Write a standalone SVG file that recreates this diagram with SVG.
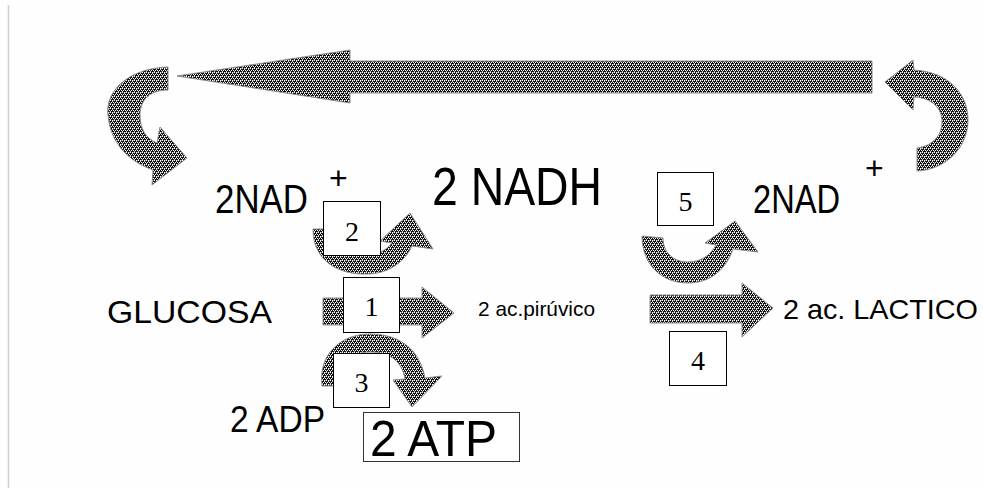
<svg xmlns="http://www.w3.org/2000/svg" width="983" height="488" viewBox="0 0 983 488">
<defs>
<pattern id="dith" width="4" height="4" patternUnits="userSpaceOnUse">
<rect width="4" height="4" fill="#111"/>
<rect x="0" y="0" width="1" height="1" fill="#fff"/>
<rect x="2" y="0" width="1" height="1" fill="#fff"/>
<rect x="1" y="2" width="1" height="1" fill="#fff"/>
<rect x="3" y="2" width="1" height="1" fill="#fff"/>
<rect x="0" y="1" width="1" height="1" fill="#ccc"/>
<rect x="2" y="3" width="1" height="1" fill="#ccc"/>
<rect x="1" y="0" width="1" height="1" fill="#777"/>
</pattern>
<style>
.arr{fill:url(#dith);stroke:#8a8a8a;stroke-width:1}
.box{fill:#fff;stroke:#000;stroke-width:1}
.t{font-family:"Liberation Sans",Arial,sans-serif;fill:#000}
.n{font-family:"Liberation Serif","Times New Roman",serif;fill:#000;font-size:28px;text-anchor:middle}
</style>
</defs>
<rect width="983" height="488" fill="#fefefe"/>
<line x1="8.5" y1="5" x2="8.5" y2="488" stroke="#cfcfcf" stroke-width="1.5"/>
<g id="connectors">
<path id="big-arrow" class="arr" d="M177,76 L350,50 L350,61 L872,61 L872,93 L350,93 L350,103 Z"/>
<path id="left-curve" class="arr" d="M168,67 C130,68 105,90 108,115 C110,140 125,160 153,170 L152,185 L187,158 L160,127 L157,143 C145,138 140,128 140,115 C140,100 150,90 168,90 Z"/>
<path id="right-curve" class="arr" d="M885,82 L913,60 L914,70 C950,72 968,95 968,120 C968,148 945,170 917,171 L917,148 C933,146 942,135 942,122 C942,108 932,98 914,97 L913,110 Z"/>
<path id="arrow-1" class="arr" d="M323,298 L422,298 L422,287 L454,313 L422,338 L422,325 L323,325 Z"/>
<path id="arrow-2" class="arr" d="M313,229 C313,262 340,275 367,274 C387,274 404,263 412,246 L433,249 L410,213 L380,241 L392,243 C385,252 375,255 365,255 C345,255 333,245 333,229 Z"/>
<path id="arrow-3" class="arr" d="M322,386 C318,355 340,334 370,334 C400,334 420,350 425,378 L442,376 L412,407 L393,380 L405,379 C402,360 388,352 370,352 C352,352 342,365 343,386 Z"/>
<path id="arrow-4" class="arr" d="M650,295 L742,295 L742,283 L773,308 L742,337 L742,323 L650,323 Z"/>
<path id="arrow-5" class="arr" d="M642,236 C642,265 662,283 688,283 C708,283 725,272 733,249 L758,252 L735,221 L705,243 L716,245 C710,256 700,262 688,262 C673,262 663,252 663,238 Z"/>
</g>
<g id="nad-left"><text class="t" x="215" y="213" font-size="40" textLength="93" lengthAdjust="spacingAndGlyphs">2NAD</text>
<text class="t" x="329" y="189" font-size="32">+</text></g>
<g id="nadh"><text class="t" x="432" y="205" font-size="53" textLength="170" lengthAdjust="spacingAndGlyphs">2 NADH</text></g>
<g id="glucosa"><text class="t" x="107" y="323" font-size="31" textLength="165" lengthAdjust="spacingAndGlyphs">GLUCOSA</text></g>
<g id="piruvico"><text class="t" x="478" y="316" font-size="21" textLength="117" lengthAdjust="spacingAndGlyphs">2 ac.pirúvico</text></g>
<g id="adp"><text class="t" x="230" y="432" font-size="37" textLength="95" lengthAdjust="spacingAndGlyphs">2 ADP</text></g>
<g id="atp"><rect x="363.5" y="412.5" width="156" height="49" fill="#fff" stroke="#333" stroke-width="1"/>
<text class="t" x="370" y="456" font-size="50" textLength="127" lengthAdjust="spacingAndGlyphs">2 ATP</text></g>
<g id="nad-right"><text class="t" x="753" y="213" font-size="40" textLength="87" lengthAdjust="spacingAndGlyphs">2NAD</text>
<text class="t" x="865" y="179" font-size="32">+</text></g>
<g id="lactico"><text class="t" x="783" y="319" font-size="28" textLength="195" lengthAdjust="spacingAndGlyphs">2 ac. LACTICO</text></g>
<g id="box-1"><rect class="box" x="343.5" y="277.5" width="56" height="55"/><text class="n" x="371.5" y="316">1</text></g>
<g id="box-2"><rect class="box" x="323.5" y="201.5" width="57" height="54"/><text class="n" x="352" y="241">2</text></g>
<g id="box-3"><rect class="box" x="333.5" y="353.5" width="56" height="54"/><text class="n" x="361.5" y="392">3</text></g>
<g id="box-4"><rect class="box" x="669.5" y="331.5" width="57" height="54"/><text class="n" x="698" y="370">4</text></g>
<g id="box-5"><rect class="box" x="657.5" y="172.5" width="56" height="53"/><text class="n" x="685.5" y="211">5</text></g>
</svg>
